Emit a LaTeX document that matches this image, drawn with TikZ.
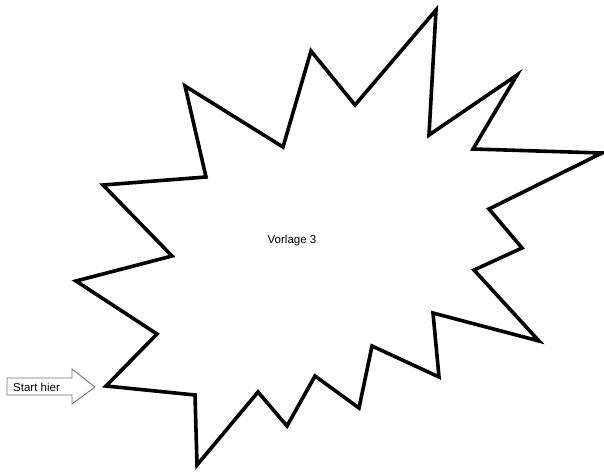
\documentclass[tikz,border=0pt]{standalone}
\usepackage{fontspec}
\setmainfont{Liberation Sans}
\begin{document}
\begin{tikzpicture}[x=1pt,y=-1pt,
  starline/.style={draw=black,line width=3.6pt,line join=miter,miter limit=20},
  arrowline/.style={draw=black!55,line width=0.9pt,fill=white},
  label/.style={font=\fontsize{11.5}{13}\selectfont,inner sep=0pt}]
\useasboundingbox (0,0) rectangle (604,473);
\draw[starline] (185,86) -- (283,147) -- (311,51) -- (355,105) -- (436,10)
  -- (429,135) -- (517,75) -- (473,149) -- (602,153) -- (489,209)
  -- (522,248) -- (474,270) -- (539,341) -- (433,313) -- (439,377)
  -- (372,346) -- (359,408) -- (315,376) -- (287,426) -- (258,392)
  -- (197,465) -- (195,395) -- (106,386) -- (157,334) -- (76,281)
  -- (172,256) -- (103,185) -- (206,177) -- cycle;
\draw[arrowline] (7,378) -- (72,378) -- (72,369) -- (95,387) -- (72,404)
  -- (72,395) -- (7,395) -- cycle;
\node[label,anchor=west] (start) at (13,387) {Start hier};
\node[label] (vorlage) at (292,241) {Vorlage 3};
\end{tikzpicture}
\end{document}
